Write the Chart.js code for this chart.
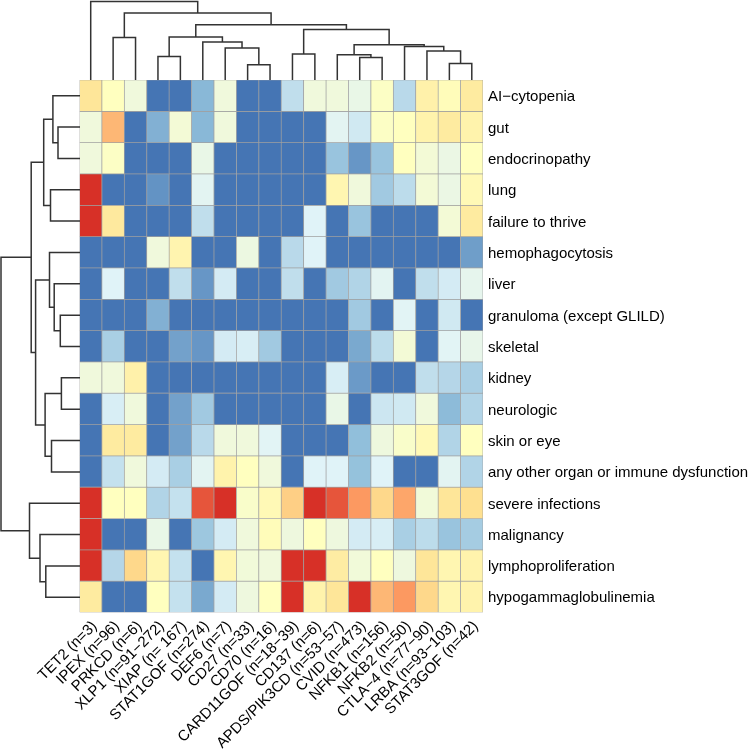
<!DOCTYPE html>
<html>
<head>
<meta charset="utf-8">
<script src="https://cdn.jsdelivr.net/npm/chart.js@4.4.1/dist/chart.umd.min.js"></script>
<style>
  html, body { margin: 0; padding: 0; background: #fff; }
  #wrap { position: relative; width: 751px; height: 750px; }
  canvas { position: absolute; }
</style>
</head>
<body>
<div id="wrap">
  <canvas id="heat" width="751" height="750" style="left:0;top:0"></canvas>
  <canvas id="colTree" width="751" height="80" style="left:0;top:0"></canvas>
  <canvas id="rowTree" width="80" height="533" style="left:0;top:80px"></canvas>
</div>
<script>
// Columns (genotype / cohort) in dendrogram order
const genes = [
  'TET2 (n=3)', 'IPEX (n=96)', 'PRKCD (n=6)', 'XLP1 (n=91\u2212272)', 'XIAP (n= 167)',
  'STAT1GOF (n=274)', 'DEF6 (n=7)', 'CD27 (n=33)', 'CD70 (n=16)', 'CARD11GOF (n=18\u221239)',
  'CD137 (n=6)', 'APDS/PIK3CD (n=53\u221257)', 'CVID (n=473)', 'NFKB1 (n=156)', 'NFKB2 (n=50)',
  'CTLA\u22124 (n=77\u221290)', 'LRBA (n=93\u2212103)', 'STAT3GOF (n=42)',
];
// Rows (clinical feature) in dendrogram order
const features = [
  'AI\u2212cytopenia', 'gut', 'endocrinopathy', 'lung', 'failure to thrive', 'hemophagocytosis',
  'liver', 'granuloma (except GLILD)', 'skeletal', 'kidney', 'neurologic', 'skin or eye',
  'any other organ or immune dysfunction', 'severe infections', 'malignancy',
  'lymphoproliferation', 'hypogammaglobulinemia',
];
// Scaled score per cell (0 = low / blue ... 6 = high / red), one row per feature
const scores = [
  [3.8, 3.0, 2.5, 0, 0, 0.9, 2.5, 0, 0, 1.6, 2.5, 2.5, 2.3, 2.9, 1.5, 3.45, 3.1, 3.65],
  [2.5, 4.5, 0, 0.8, 2.6, 0.9, 2.5, 0, 0, 0, 0, 2.1, 1.8, 2.9, 3.0, 3.4, 3.65, 3.4],
  [2.5, 2.9, 0, 0, 0, 2.3, 0, 0, 0, 0, 0, 1.1, 0.45, 1.1, 3.0, 2.6, 2.35, 3.0],
  [6, 0, 0, 0.4, 0, 2.1, 0, 0, 0, 0, 0, 3.3, 2.5, 1.2, 1.55, 2.6, 2.35, 3.2],
  [6, 3.7, 0, 0, 0, 1.6, 0, 0, 0, 0, 2.0, 0, 1.1, 0, 0, 0, 2.6, 3.65],
  [0, 0, 0, 2.5, 3.35, 0, 0, 2.4, 0, 1.5, 2.0, 0, 0, 0, 0, 0, 0, 0.55],
  [0, 2.0, 0, 0, 1.6, 0.45, 1.85, 0, 0, 1.6, 0, 1.2, 1.4, 2.1, 0, 1.6, 1.85, 2.2],
  [0, 0, 0, 0.8, 0, 0, 0, 0, 0, 0, 0, 0, 1.2, 0, 2.05, 0, 1.8, 0],
  [0, 1.3, 0, 0, 0.6, 0.45, 1.85, 1.9, 1.2, 0, 0, 0, 0.7, 1.55, 2.6, 0, 2.05, 2.25],
  [2.5, 2.5, 3.45, 0, 0, 0, 0, 0, 0, 0, 0, 1.9, 0.5, 0, 0, 1.6, 1.45, 1.3],
  [0, 1.9, 2.5, 0, 0.6, 1.2, 0, 0, 0, 0, 0, 2.3, 0, 1.75, 1.8, 2.5, 0.95, 1.4],
  [0, 3.65, 3.65, 0, 0.6, 1.5, 2.5, 2.5, 2.05, 0, 0, 0, 1.0, 2.45, 2.8, 3.2, 1.4, 3.0],
  [0, 1.65, 2.5, 1.85, 1.3, 2.1, 3.4, 3.0, 2.5, 0, 2.0, 2.0, 1.05, 2.0, 0, 0, 2.1, 1.4],
  [6, 3.0, 3.0, 1.4, 1.65, 5.6, 6, 2.8, 3.2, 4.2, 6, 5.6, 4.85, 4.1, 4.7, 2.55, 3.8, 4.0],
  [6, 0, 0, 2.3, 0, 1.15, 1.85, 2.5, 3.1, 2.45, 3.0, 2.45, 1.85, 1.9, 1.3, 1.55, 1.1, 1.25],
  [6, 1.45, 4.1, 3.3, 1.65, 0, 3.3, 2.55, 2.5, 6, 6, 3.6, 2.55, 3.0, 2.45, 3.8, 3.3, 3.4],
  [3.65, 0, 0, 3.0, 1.65, 0.7, 1.85, 2.45, 3.0, 6, 3.4, 3.8, 6, 4.5, 4.85, 4.1, 3.3, 3.4],
];
// hclust-style merges: negative = leaf (-1 is first leaf), positive = earlier merge (1-based)
const colMerges = [
  [-8, -9, 15.3], [-17, -18, 16.6], [-13, -14, 22.6], [-4, -5, 23.6], [-12, 3, 25.3],
  [-10, -11, 26], [-16, 2, 29], [-7, 1, 32], [-15, 7, 33.6], [5, 9, 35.3], [-6, 8, 38],
  [-2, -3, 42.6], [4, 11, 43], [6, 10, 50.6], [13, 14, 55.3], [12, 15, 67], [-1, 16, 78.6],
];
const rowMerges = [
  [-10, -11, 18.6], [-8, -9, 19.7], [-2, -3, 22], [-7, 2, 25.8], [-1, 3, 27.1],
  [-12, -13, 28.5], [-4, -5, 29.5], [-6, 4, 30.5], [-16, -17, 34.2], [1, 6, 34.9],
  [5, 7, 36.3], [-15, 9, 40], [8, 10, 44.4], [11, 13, 48.8], [-14, 12, 50.5], [14, 15, 79],
];
const palette = ['#4575B4', '#91BFDB', '#E0F3F8', '#FFFFBF', '#FEE090', '#FC8D59', '#D73027'];

const font = { family: '"Liberation Sans", Arial, Helvetica, sans-serif', size: 15 };

function rgb(c) {
  return [1, 3, 5].map((i) => parseInt(c.slice(i, i + 2), 16));
}
function colourFor(v) {
  const t = Math.max(0, Math.min(palette.length - 1, v));
  const i = Math.min(Math.floor(t), palette.length - 2);
  const f = t - i;
  const a = rgb(palette[i]);
  const b = rgb(palette[i + 1]);
  return `rgb(${a.map((x, k) => Math.round(x + (b[k] - x) * f)).join(',')})`;
}

// Turn merge list into U-shaped links: [{p, h} x4]
function treeLinks(merges) {
  const pos = [];
  const hgt = [];
  const node = (id) => (id < 0 ? { p: -id - 1, h: 0 } : { p: pos[id - 1], h: hgt[id - 1] });
  return merges.map(([a, b, h], k) => {
    const A = node(a);
    const B = node(b);
    pos[k] = (A.p + B.p) / 2;
    hgt[k] = h;
    return [{ p: A.p, h: A.h }, { p: A.p, h }, { p: B.p, h }, { p: B.p, h: B.h }];
  });
}

const lineStyle = {
  showLine: true, borderColor: '#333333', borderWidth: 1.5, pointRadius: 0, clip: false,
};
const quiet = { legend: { display: false }, tooltip: { enabled: false } };

// Heatmap: one floating-bar dataset per feature row
const nRows = features.length;
new Chart(document.getElementById('heat'), {
  type: 'bar',
  data: {
    labels: genes,
    datasets: features.map((f, r) => ({
      label: f,
      data: genes.map(() => [nRows - r - 1, nRows - r]),
      backgroundColor: scores[r].map(colourFor),
      borderColor: '#a0a0a0',
      borderWidth: 0.7,
      borderSkipped: false,
      grouped: false,
      categoryPercentage: 1,
      barPercentage: 1,
    })),
  },
  options: {
    responsive: false,
    animation: false,
    layout: { padding: { top: 80, left: 79.5, right: 0, bottom: 0 } },
    plugins: quiet,
    scales: {
      x: {
        grid: { display: false, drawTicks: false },
        border: { display: false },
        ticks: {
          autoSkip: false,
          maxRotation: 45,
          minRotation: 45,
          color: '#000',
          font,
          padding: 5,
          labelOffset: 4,
        },
        afterFit(s) { s.height = 137.5; },
      },
      y: { display: false, min: 0, max: nRows },
      rows: {
        type: 'category',
        labels: features,
        position: 'right',
        offset: true,
        grid: { display: false, drawTicks: false },
        border: { display: false },
        ticks: {
          autoSkip: false, color: '#000', font, padding: 5, labelOffset: 1.5,
        },
        afterFit(s) { s.width = 268; },
      },
    },
  },
});

// Column dendrogram (top)
new Chart(document.getElementById('colTree'), {
  type: 'scatter',
  data: {
    datasets: treeLinks(colMerges).map((l) => ({
      ...lineStyle, data: l.map((q) => ({ x: q.p, y: q.h })),
    })),
  },
  options: {
    responsive: false,
    animation: false,
    layout: { padding: { top: 0, left: 79.5, right: 268, bottom: 0 } },
    plugins: quiet,
    scales: {
      x: { display: false, min: -0.5, max: genes.length - 0.5 },
      y: { display: false, min: 0, max: 80 },
    },
  },
});

// Row dendrogram (left)
new Chart(document.getElementById('rowTree'), {
  type: 'scatter',
  data: {
    datasets: treeLinks(rowMerges).map((l) => ({
      ...lineStyle, data: l.map((q) => ({ x: q.h, y: q.p })),
    })),
  },
  options: {
    responsive: false,
    animation: false,
    layout: { padding: 0 },
    plugins: quiet,
    scales: {
      x: { display: false, min: 0, max: 80, reverse: true },
      y: { display: false, min: -0.5, max: nRows - 0.5, reverse: true },
    },
  },
});
</script>
</body>
</html>
